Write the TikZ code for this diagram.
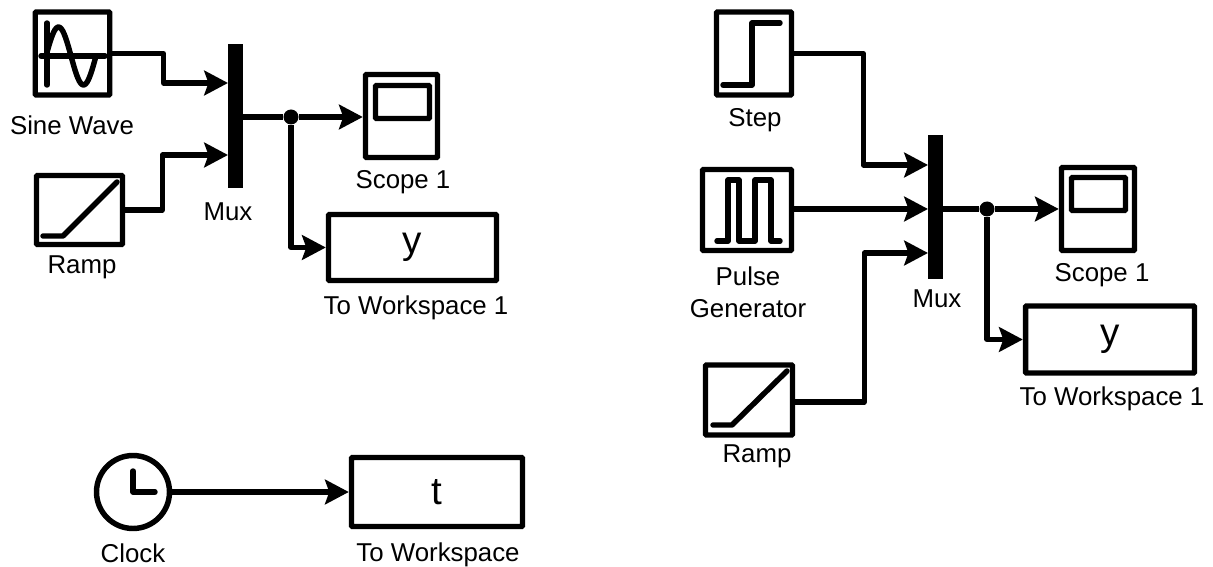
\documentclass[tikz,border=0pt]{standalone}
\usepackage{fontspec}
\setmainfont{Liberation Sans}
\usetikzlibrary{arrows.meta}
\tikzset{
  block/.style={draw=black, line width=3.1pt, rounded corners=0.6pt, inner sep=0pt, font=\fontsize{22}{26}\selectfont},
  muxbar/.style={fill=black, inner sep=0pt, minimum width=0.3cm, minimum height=2.88cm},
  dot/.style={circle, fill=black, inner sep=0pt, minimum size=0.3cm},
  label/.style={inner sep=0pt, align=center, yshift=-0.6pt, font=\fontsize{14.7}{18}\selectfont},
  wire/.style={line width=2.9pt, line join=round},
  arrowwire/.style={wire, -{Stealth[length=13.5pt, width=14pt, inset=2.4pt]}},
  icon/.style={line width=3.1pt, line cap=round, line join=round}
}
\begin{document}
\begin{tikzpicture}[x=0.02cm, y=-0.02cm]
\useasboundingbox (0,0) rectangle (1213,567);

% Primer modelo: fuentes
\node[block, minimum width=1.49cm, minimum height=1.66cm] (sineL) at (72.5,53.5) {};
\draw[icon] (47,23) -- (47,85);
\draw[icon] (41,56) -- (105,56);
\draw[icon] plot[domain=0:360, samples=40, smooth] ({46+\x/7.2},{56-29*sin(\x)});
\node[label] (sineT) at (72,124) {Sine Wave};

\node[block, minimum width=1.72cm, minimum height=1.38cm] (rampL) at (79.5,210) {};
\draw[icon] (43,236) -- (63,236) -- (117,182);
\node[label] (rampT) at (82,266) {Ramp};

% Mux, scope y salida
\node[muxbar] (muxL) at (235.5,116) {};
\node[label] (muxT) at (228,211) {Mux};
\coordinate (muxLa) at (228,83);
\coordinate (muxLb) at (228,155);
\node[dot] (dotL) at (291,117) {};

\node[block, minimum width=1.44cm, minimum height=1.66cm] (scopeL) at (401.5,116) {};
\draw[line width=3.1pt, rounded corners=0.6pt] (375.5,85.5) rectangle (429.5,118.5);
\node[label] (scopeT) at (403,181) {Scope 1};

\node[block, minimum width=3.36cm, minimum height=1.32cm] (workL) at (412.5,247.5) {\raisebox{-1.4pt}{y}};
\node[label] (workT) at (416,307) {To Workspace 1};

\draw[arrowwire] (sineL.east) -- ++(51,0) |- (muxLa);
\draw[arrowwire] (rampL.east) -- ++(37,0) |- (muxLb);
\draw[arrowwire] (muxL.east |- dotL) -- (dotL) -- (scopeL.west |- dotL);
\draw[arrowwire] (dotL) |- (workL.west);

% Reloj
\node[circle, draw=black, line width=3.1pt, inner sep=0pt, minimum size=1.46cm] (clockL) at (133,492) {};
\draw[icon] (133,471) -- (133,492) -- (155,492);
\node[label] (clockT) at (133,552) {Clock};

\node[block, minimum width=3.42cm, minimum height=1.38cm] (workTL) at (437,492) {\raisebox{-1.8pt}{t}};
\node[label] (workTT) at (438,554) {To Workspace};
\draw[arrowwire] (clockL.east) -- (workTL.west);

% Segundo modelo: fuentes
\node[block, minimum width=1.5cm, minimum height=1.66cm] (stepR) at (754,53.5) {};
\draw[icon] (723,85) -- (752,85) -- (752,23) -- (780,23);
\node[label] (stepT) at (755,119) {Step};

\node[block, minimum width=1.78cm, minimum height=1.62cm] (pulseR) at (747,210) {};
\draw[icon] (717,241) -- (728,241) -- (728,180) -- (739,180) -- (739,241) -- (755,241) -- (755,180) -- (771,180) -- (771,241) -- (780,241);
\node[label] (pulseT) at (748,291) {Pulse\\Generator};

\node[block, minimum width=1.74cm, minimum height=1.4cm] (rampR) at (749,400) {};
\draw[icon] (713,425) -- (732,425) -- (787,371);
\node[label] (rampRT) at (757,455) {Ramp};

% Mux, scope y salida
\node[muxbar] (muxR) at (935.5,207) {};
\node[label] (muxRT) at (937,298) {Mux};
\coordinate (muxRa) at (928,165);
\coordinate (muxRb) at (928,209);
\coordinate (muxRc) at (928,253);
\node[dot] (dotR) at (987,209) {};

\node[block, minimum width=1.46cm, minimum height=1.66cm] (scopeR) at (1098,209) {};
\draw[line width=3.1pt, rounded corners=0.6pt] (1071.5,177.5) rectangle (1125.5,210.5);
\node[label] (scopeRT) at (1102,274) {Scope 1};

\node[block, minimum width=3.38cm, minimum height=1.34cm] (workR) at (1110,339.5) {\raisebox{-1.4pt}{y}};
\node[label] (workRT) at (1112,398) {To Workspace 1};

\draw[arrowwire] (stepR.east) -- ++(69,0) |- (muxRa);
\draw[arrowwire] (pulseR.east |- muxRb) -- (muxRb);
\draw[arrowwire] (rampR.east) ++(0,2) -- ++(69,0) |- (muxRc);
\draw[arrowwire] (muxR.east |- dotR) -- (dotR) -- (scopeR.west |- dotR);
\draw[arrowwire] (dotR) |- (workR.west);
\end{tikzpicture}
\end{document}
